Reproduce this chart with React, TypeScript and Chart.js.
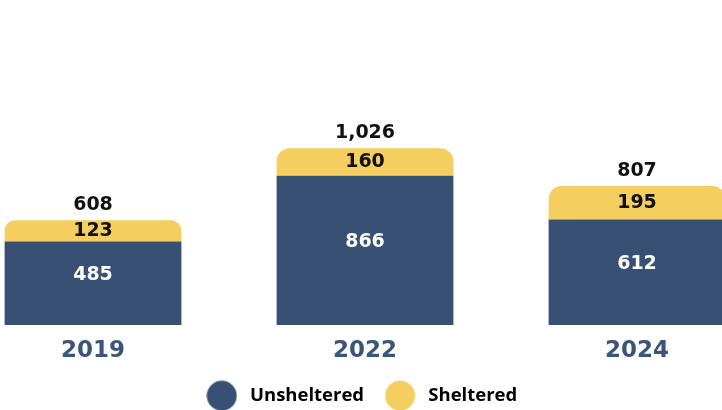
import React, { useEffect, useRef } from "react";
import { Chart, registerables } from "chart.js";

Chart.register(...registerables);

const years = ["2019", "2022", "2024"];
const unsheltered = [485, 866, 612];
const sheltered = [123, 160, 195];
const seriesNames = ["Unsheltered", "Sheltered"];
const seriesColors = ["#375073", "#f4ce5f"];
const yMax = 1800;

const CANVAS_W = 816;
const CANVAS_H = 424;
const OFFSET_X = -43;
const LEGEND_SHIFT_X = -5;
const LEGEND_SHIFT_Y = -7;
const NUM_FONT = "DejaVu Sans";

function makeDot(color: string, size: number): HTMLCanvasElement {
  const c = document.createElement("canvas");
  c.width = size;
  c.height = size;
  const ctx = c.getContext("2d")!;
  ctx.fillStyle = color;
  ctx.beginPath();
  ctx.arc(size / 2, size / 2, size / 2 - 0.5, 0, Math.PI * 2);
  ctx.fill();
  return c;
}

const legendShift = {
  id: "legendShift",
  afterLayout(chart: any) {
    const l = chart.legend;
    if (!l) return;
    l.left += LEGEND_SHIFT_X;
    l.right += LEGEND_SHIFT_X;
    l.top += LEGEND_SHIFT_Y;
    l.bottom += LEGEND_SHIFT_Y;
  },
};

const labelPlugin = {
  id: "barLabels",
  afterDatasetsDraw(chart: any) {
    const ctx = chart.ctx;
    const m0 = chart.getDatasetMeta(0);
    const m1 = chart.getDatasetMeta(1);
    ctx.save();
    ctx.textAlign = "center";
    ctx.textBaseline = "middle";
    ctx.font = `bold 19px "${NUM_FONT}"`;
    m0.data.forEach((bar: any, i: number) => {
      const cy = (bar.y + bar.base) / 2 - 8;
      ctx.fillStyle = "#ffffff";
      ctx.fillText(String(unsheltered[i]), bar.x, cy);
    });
    m1.data.forEach((bar: any, i: number) => {
      const cy = (bar.y + bar.base) / 2;
      ctx.fillStyle = "#111111";
      ctx.fillText(String(sheltered[i]), bar.x, cy);
      const total = unsheltered[i] + sheltered[i];
      ctx.fillText(total.toLocaleString("en-US"), bar.x, bar.y - 15);
    });
    ctx.restore();
  },
};

export default function App() {
  const ref = useRef<HTMLCanvasElement>(null);
  useEffect(() => {
    if (!ref.current) return;
    const dots = seriesColors.map((c) => makeDot(c, 31));
    const chart = new Chart(ref.current, {
      type: "bar",
      data: {
        labels: years,
        datasets: [
          {
            label: seriesNames[0],
            data: unsheltered,
            backgroundColor: seriesColors[0],
            barPercentage: 0.65,
            categoryPercentage: 1,
            borderRadius: 0,
          },
          {
            label: seriesNames[1],
            data: sheltered,
            backgroundColor: seriesColors[1],
            barPercentage: 0.65,
            categoryPercentage: 1,
            borderRadius: { topLeft: 13, topRight: 13, bottomLeft: 0, bottomRight: 0 },
            borderSkipped: false,
          },
        ],
      },
      options: {
        responsive: false,
        animation: false,
        layout: { padding: { top: 15, bottom: 2, left: 0, right: 0 } },
        scales: {
          x: {
            stacked: true,
            grid: { display: false, drawTicks: false },
            border: { display: false },
            ticks: {
              color: "#3b5479",
              padding: 12,
              font: { family: NUM_FONT, size: 23, weight: "bold" },
            },
          },
          y: {
            stacked: true,
            display: false,
            min: 0,
            max: yMax,
          },
        },
        plugins: {
          tooltip: { enabled: false },
          legend: {
            position: "bottom",
            labels: {
              usePointStyle: true,
              pointStyleWidth: 38,
              padding: 17,
              color: "#2c3545",
              font: { family: "Open Sans", size: 18.5, weight: "bold" },
              generateLabels: () =>
                seriesNames.map((name, i) => ({
                  text: name,
                  fillStyle: seriesColors[i],
                  strokeStyle: seriesColors[i],
                  lineWidth: 0,
                  pointStyle: dots[i],
                  hidden: false,
                  datasetIndex: i,
                })),
            },
          },
        },
      },
      plugins: [legendShift, labelPlugin],
    });
    return () => chart.destroy();
  }, []);

  return (
    <div
      style={{
        position: "fixed",
        left: 0,
        top: 0,
        width: 722,
        height: 410,
        overflow: "hidden",
        background: "#ffffff",
      }}
    >
      <canvas
        ref={ref}
        width={CANVAS_W}
        height={CANVAS_H}
        style={{ position: "absolute", left: OFFSET_X, top: 0, width: CANVAS_W, height: CANVAS_H }}
      />
    </div>
  );
}
